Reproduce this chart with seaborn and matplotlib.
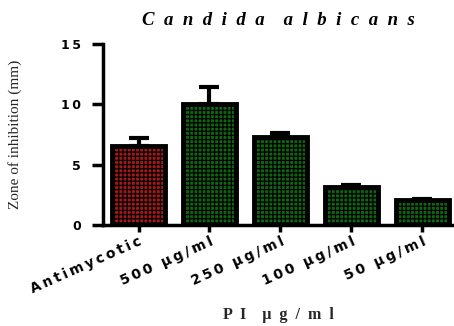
import matplotlib
matplotlib.use("Agg")
import matplotlib.pyplot as plt
import seaborn as sns
import pandas as pd

# data
groups = ["Antimycotic", "500 µg/ml", "250 µg/ml", "100 µg/ml", "50 µg/ml"]
zone_mm = [6.55, 10.05, 7.3, 3.15, 2.07]
zone_err = [0.65, 1.35, 0.3, 0.12, 0.08]
bar_colors = ["#c00000", "#007400", "#007400", "#007400", "#007400"]
y_ticks = [0, 5, 10, 15]

sns.set_style("white")
plt.rcParams["hatch.linewidth"] = 0.9
plt.rcParams["text.color"] = "black"
plt.rcParams["xtick.color"] = "black"
plt.rcParams["ytick.color"] = "black"

THIN = "\u2009"


def spaced(s, sep=THIN):
    # the reference sets its labels with wide letter spacing
    return sep.join(s)


df = pd.DataFrame({"group": groups, "zone": zone_mm})

fig = plt.figure(figsize=(4.54, 3.26), dpi=100)
ax = fig.add_axes([0.227, 0.31, 0.773, 0.555])

sns.barplot(data=df, x="group", y="zone", hue="group", palette=bar_colors,
            legend=False, width=0.75, edgecolor="black", linewidth=3.5,
            errorbar=None, ax=ax)
for p in ax.patches:
    p.set_hatch("++++")

ax.errorbar(range(len(groups)), zone_mm, yerr=[[0] * len(groups), zone_err],
            fmt="none", ecolor="black", elinewidth=3, capsize=7, capthick=3,
            zorder=1)

ax.set_xlim(-0.5, 4.45)
ax.set_ylim(0, 15)
sns.despine(ax=ax)
for side in ["left", "bottom"]:
    ax.spines[side].set_linewidth(2.5)
    ax.spines[side].set_color("black")

ax.tick_params(axis="y", direction="out", length=8, width=2.5, pad=8,
               left=True)
ax.tick_params(axis="x", direction="out", length=5, width=2.5, pad=2,
               bottom=True)
ax.set_yticks(y_ticks)
ax.set_yticklabels([spaced(str(t)) for t in y_ticks], fontweight="heavy",
                   fontsize=9)
ax.set_xticks(range(len(groups)))
ax.set_xticklabels([spaced(g) for g in groups], rotation=24, ha="right",
                   rotation_mode="anchor", fontweight="heavy", fontsize=10)

ax.set_xlabel("P  I    µ  g  /  m  l", family="Liberation Serif",
              fontweight="bold", fontsize=11.5)
ax.xaxis.set_label_coords(0.5, -0.455)
ax.set_ylabel("Zone of inhibition (mm)", family="Liberation Serif",
              fontsize=11)
ax.yaxis.set_label_coords(-0.23, 0.5)
ax.set_title("C  a  n  d  i  d  a    a  l  b  i  c  a  n  s",
             family="Liberation Serif", fontweight="bold", style="italic",
             fontsize=13.5, pad=14)

fig.savefig("out.png", dpi=100)
